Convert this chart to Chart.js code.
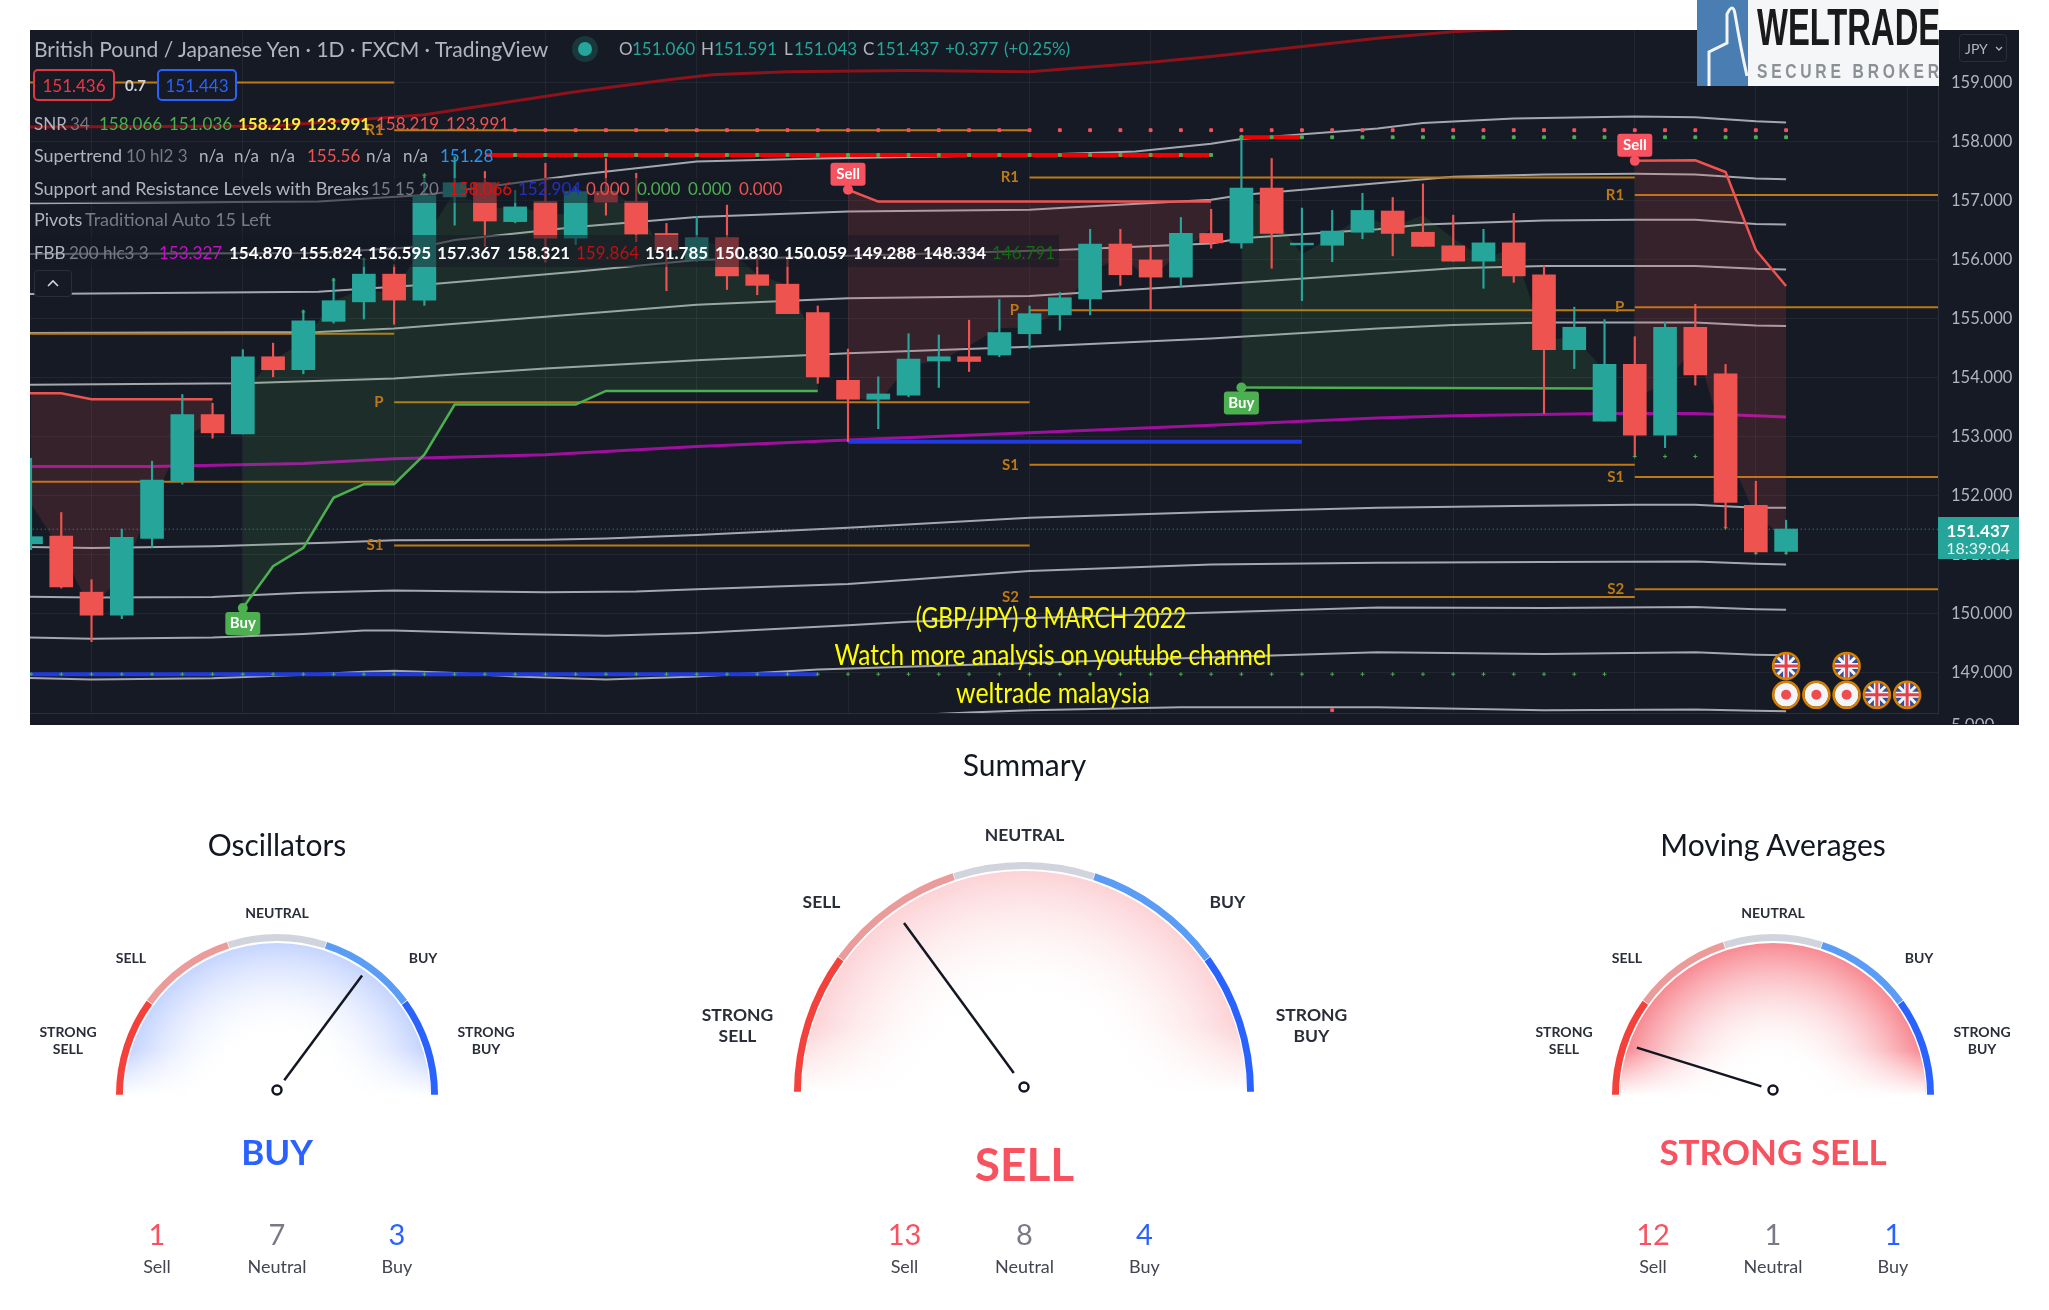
<!DOCTYPE html>
<html>
<head>
<meta charset="utf-8">
<title>GBP/JPY 8 March 2022</title>
<script src="https://cdn.jsdelivr.net/npm/chart.js@4"></script>
<style>
  html, body { margin: 0; background: #fff; }
  #page { position: relative; width: 2049px; height: 1310px; overflow: hidden; font-family: Lato, sans-serif; }
  #chartBox { position: absolute; left: 30px; top: 30px; width: 1989px; height: 695px; background: #161a25; overflow: hidden; }
  #overlay { position: absolute; left: 0; top: 0; width: 2049px; height: 1310px; pointer-events: none; }
  #overlay span { position: absolute; white-space: nowrap; }
  .gauge { position: absolute; }
  .box { position: absolute; box-sizing: border-box; }
</style>
</head>
<body>
<div id="page">
  <div id="chartBox"><canvas id="priceChart" width="1989" height="695"></canvas></div>
  <canvas id="gauge0" class="gauge" width="324" height="162" style="left:115px;top:934px"></canvas>
  <canvas id="gauge1" class="gauge" width="462" height="231" style="left:793px;top:862px"></canvas>
  <canvas id="gauge2" class="gauge" width="324" height="162" style="left:1611px;top:934px"></canvas>
  <div id="overlay"></div>
</div>
<script>
// Candles
const opens = [151.19,151.32,150.37,149.98,151.28,152.25,153.38,153.05,154.36,154.14,154.96,155.29,155.76,155.32,157.07,157.31,156.65,156.99,156.37,157.16,156.99,156.45,156.00,156.38,155.75,155.59,155.11,153.96,153.64,153.71,154.29,154.36,154.39,154.75,155.07,155.34,156.27,156.00,155.71,156.45,156.29,157.22,156.255,156.25,156.47,156.83,156.47,156.24,155.98,156.29,155.75,154.48,153.27,154.23,153.03,154.86,154.07,151.84,151.06]
const highs = [152.64,151.72,150.58,151.44,152.59,153.72,153.57,154.48,154.59,155.15,155.69,156.03,155.92,157.44,157.75,157.50,157.18,157.64,157.24,157.72,157.47,156.62,156.74,156.93,156.10,156.06,155.22,154.49,154.02,154.75,154.73,154.98,155.33,155.22,155.45,156.52,156.52,156.23,156.72,156.86,158.09,157.72,156.88,156.84,157.13,157.06,157.29,156.76,156.52,156.79,155.90,155.20,154.99,154.70,154.94,155.25,154.23,152.25,151.59]
const lows = [151.09,150.44,149.53,149.92,151.13,152.20,152.98,153.05,154.02,154.07,154.93,155.00,154.91,155.23,156.59,156.23,156.63,155.96,156.26,156.76,156.31,155.48,155.97,155.50,155.41,155.09,153.91,152.92,153.14,153.68,153.84,154.11,154.36,154.50,154.81,155.07,155.57,155.15,155.55,156.20,156.20,155.86,155.31,155.97,156.36,156.07,156.23,155.98,155.52,155.62,153.40,154.16,153.27,152.67,152.82,153.88,151.46,151.03,151.04]
const closes = [151.31,150.46,149.98,151.30,152.27,153.38,153.07,154.36,154.14,154.97,155.31,155.76,155.32,157.09,157.31,156.66,156.90,156.37,157.16,156.98,156.44,156.17,156.38,155.73,155.57,155.09,154.02,153.64,153.73,154.32,154.36,154.28,154.77,155.09,155.36,156.27,155.75,155.71,156.45,156.29,157.22,156.45,156.285,156.49,156.84,156.45,156.23,155.98,156.29,155.73,154.48,154.86,154.23,153.03,154.86,154.05,151.89,151.05,151.44]

const yTicks = [149,150,151,152,153,154,155,156,157,158,159]
const gridDays = [2,7,12,17,22,27,33,37,42,47,53,57,62]
const lastPrice = 151.437

// FBB bands as [candle, price]
const fbbUpper6 = [[-1,158.25],[8,158.27],[13,158.46],[18,158.85],[21,159.05],[22.5,159.14],[25,159.19],[29,159.21],[33,159.19],[37,159.35],[39,159.45],[44.5,159.76],[47,159.87],[50,159.95]]
const fbbUpper5 = [[-1,156.96],[9.5,156.99],[13,157.10],[18,157.44],[22,157.67],[26,157.72],[33,157.78],[36.5,157.84],[39,157.97],[40,158.05],[44.5,158.23],[46,158.32],[49,158.40],[53,158.43],[55,158.42],[57,158.35],[58,158.33]]
const fbbUpper4 = [[-1,156.10],[9.5,156.12],[13,156.23],[14,156.34],[18,156.56],[22,156.73],[27,156.82],[33,156.85],[34,156.88],[39,157.02],[40,157.10],[44.5,157.30],[47,157.41],[50,157.45],[53,157.46],[55,157.45],[57,157.38],[58,157.37]]
const fbbUpper3 = [[-1,155.42],[9.5,155.46],[13,155.58],[18,155.80],[22,156.00],[34,156.17],[39,156.28],[40,156.37],[44.5,156.52],[46,156.60],[50,156.67],[53,156.68],[55,156.68],[57,156.61],[58,156.60]]
const fbbUpper2 = [[-1,154.76],[9.5,154.78],[12,154.84],[17,155.04],[22,155.24],[27,155.35],[33,155.39],[39,155.58],[44.5,155.77],[47,155.86],[50,155.90],[55,155.90],[57,155.85],[58,155.84]]
const fbbUpper1 = [[-1,153.88],[7,153.91],[12,153.99],[17,154.16],[22,154.30],[27,154.42],[33,154.53],[39,154.67],[44.5,154.84],[47,154.90],[50,154.94],[55,154.94],[57,154.89],[58,154.88]]
const fbbBasis = [[-1,152.50],[2,152.50],[4,152.50],[9,152.55],[12,152.63],[17,152.70],[22,152.84],[27,152.95],[33,153.07],[39,153.20],[44.5,153.32],[47,153.36],[52,153.40],[55,153.40],[57,153.36],[58,153.34]]
const fbbLower1 = [[-1,151.14],[2,151.12],[6,151.15],[10,151.21],[12,151.25],[17,151.26],[19,151.28],[22,151.34],[27,151.46],[33,151.63],[39,151.73],[44.5,151.80],[49,151.83],[53,151.85],[55,151.85],[57,151.80],[58,151.80]]
const fbbLower2 = [[-1,150.30],[2,150.28],[6,150.29],[9,150.36],[12,150.40],[17,150.37],[20,150.38],[22,150.42],[27,150.51],[29,150.58],[33,150.73],[39,150.84],[44.5,150.87],[50,150.88],[55,150.89],[57,150.85],[58,150.84]]
const fbbLower3 = [[-1,149.61],[2,149.58],[6,149.60],[9,149.66],[11,149.72],[12,149.72],[16,149.66],[19,149.63],[22,149.68],[27,149.81],[29,149.87],[44.5,150.11],[50,150.10],[55,150.12],[57,150.08],[58,150.07]]
const fbbLower4 = [[-1,148.93],[2,148.89],[6,148.91],[9,148.97],[11,149.02],[12,149.04],[14,149.00],[16,148.94],[19,148.89],[22,148.94],[26,149.06],[44.5,149.35],[50,149.32],[55,149.35],[57,149.31],[58,149.30]]
const fbbLower5 = [[28,148.26],[31,148.33],[33,148.37],[38,148.42],[44.5,148.42],[50,148.37],[55,148.38],[57,148.36],[58,148.35]]

// Supertrend legs
const buyLegA = [[7,150.10],[8,150.81],[9,151.12],[10,151.97],[11,152.20],[12,152.20],[13,152.70],[14,153.55],[18,153.55],[19,153.78],[26,153.78]]
const buyLegB = [[40,153.84],[52,153.82]]
const sellLegA = [[-0.1,153.74],[1,153.74],[2,153.64],[6,153.64]]
const sellLegB = [[27,157.19],[28,156.99],[39,156.99]]
const sellLegC = [[53,157.68],[55,157.69],[56,157.49],[57,156.17],[58,155.56]]

// Support and resistance breaks
const resistanceA = [[15,157.78],[39,157.78]]
const resistanceB = [[40,158.08],[42,158.08]]
const supportA = [[-0.1,148.98],[26,148.98]]
const supportB = [[27,152.92],[42,152.92]]

// Pivot periods: one entry per period
const pivotStarts = [-1,12,33,53]
const pivotEnds = [12,33,53,64]
const pivotR1 = [159.01,158.20,157.40,157.10]
const pivotP = [154.75,153.59,155.15,155.20]
const pivotS1 = [152.24,151.16,152.53,152.32]
const pivotS2 = [null,null,150.29,150.42]

// SNR dots and small signal marks
const snrRed = [16,17,18,19,20,21,22,23,24,25,26,27,28,29,30,31,32,33,34,35,36,37,38,39,40,41,42,43,44,45,46,47,48,49,50,51,52,53,54,55,56,57,58]
const snrRedLevel = 158.2
const dotsMidDays = [16,17,18,19,20,21,22,23,24,25,26,27,28,29,30,31,32,33,34,35,36,37,38,39]
const dotsHighDays = [40,41,42,43,44,45,46,47,48,49,50,51,52,53,54,55,56,57,58]
const dotsLowDays = [0,1,2,3,4,5,6,7,8,9,10,11,12,13,14,15,16,17,18,19,20,21,22,23,24,25,26,27,28,29,30,31,32,33,34,35,36,37,38,39,40,41,42,43,44,45,46,47,48,49,50,51,52]
const candleMarks = [[9,155.12],[10,155.66],[11,156.01],[12,156.01],[13,157.44],[40,158.09],[53,152.67],[54,152.67],[55,152.67],[56,151.46],[57,151.03],[58,151.03]]
const redMark = [[43,148.37]]

// Buy and sell tags, event flags, pivot letters
const tagDays = [7,27,40,53]
const tagPrices = [150.10,157.19,153.84,157.68]
const tagTexts = ['Buy','Sell','Buy','Sell']
const flagDays = [58,60,58,59,60,61,62]
const flagPrices = [149.12,149.12,148.63,148.63,148.63,148.63,148.63]
const flagKinds = ['uk','uk','jp','jp','jp','uk','uk']

// Gauges
const gaugeTitles = ['Oscillators','Summary','Moving Averages']
const gaugeZones = ['STRONG SELL','SELL','NEUTRAL','BUY','STRONG BUY']
const gaugeShares = [1,1,1,1,1]
const gaugeNeedles = [0.407,-0.402,-0.808]
const gaugeResults = ['BUY','SELL','STRONG SELL']
const sellCounts = [1,13,12]
const neutralCounts = [7,8,1]
const buyCounts = [3,4,1]

const UP = '#26a69a'
const DOWN = '#ef5350'
const BG = '#161a25'
const GREY_BAND = '#a4a7ae'
const PIVOT = '#bd7913'

const mids = highs.map((h, i) => (h + lows[i]) / 2)

function lineSet(points, color, width, order, extra) {
  return Object.assign({
    type: 'line',
    data: points.map((p) => ({ x: p[0], y: p[1] })),
    borderColor: color,
    borderWidth: width,
    pointRadius: 0,
    tension: 0,
    order: order,
  }, extra || {})
}

function dotSet(points, color, radius, style) {
  return {
    type: 'line',
    data: points.map((p) => ({ x: p[0], y: p[1] })),
    showLine: false,
    pointStyle: style,
    pointRadius: radius,
    pointBackgroundColor: color,
    pointBorderColor: color,
    pointBorderWidth: 1,
    order: 0,
  }
}

const datasets = []

// Hidden line through the candle mids, the supertrend fill closes on it
datasets.push({
  type: 'line',
  data: mids.map((m, i) => ({ x: i, y: m })),
  showLine: false,
  pointRadius: 0,
  borderWidth: 0,
  order: 20,
})
const fillGreen = { fill: { target: 0 }, backgroundColor: 'rgba(76,175,80,0.13)' }
const fillRed = { fill: { target: 0 }, backgroundColor: 'rgba(239,83,80,0.15)' }
datasets.push(lineSet(buyLegA, '#4caf50', 2.5, 3, fillGreen))
datasets.push(lineSet(buyLegB, '#4caf50', 2.5, 3, fillGreen))
datasets.push(lineSet(sellLegA, DOWN, 2.5, 3, fillRed))
datasets.push(lineSet(sellLegB, DOWN, 2.5, 3, fillRed))
datasets.push(lineSet(sellLegC, DOWN, 2.5, 3, fillRed))

;[fbbUpper5, fbbUpper4, fbbUpper3, fbbUpper2, fbbUpper1, fbbLower1, fbbLower2, fbbLower3, fbbLower4, fbbLower5].forEach((band) => {
  datasets.push(lineSet(band, GREY_BAND, 2, 6))
})
datasets.push(lineSet(fbbUpper6, '#8e1219', 3, 5))
datasets.push(lineSet(fbbBasis, '#a0109f', 3, 5))

pivotStarts.forEach((start, i) => {
  ;[pivotR1, pivotP, pivotS1, pivotS2].forEach((level) => {
    if (level[i] === null) return
    datasets.push(lineSet([[start, level[i]], [pivotEnds[i], level[i]]], PIVOT, 2, 4))
  })
})

datasets.push(lineSet(resistanceA, '#f00000', 4, 4))
datasets.push(lineSet(resistanceB, '#f00000', 4, 4))
datasets.push(lineSet(supportA, '#1f3ae0', 4, 4))
datasets.push(lineSet(supportB, '#1f3ae0', 4, 4))

datasets.push(lineSet([[-1, lastPrice], [64, lastPrice]], UP, 1, 2, { borderDash: [1, 3] }))

datasets.push({
  type: 'bar',
  data: opens.map((o, i) => ({ x: i, y: [o, closes[i]] })),
  backgroundColor: opens.map((o, i) => (closes[i] >= o ? UP : DOWN)),
  barThickness: 23,
  grouped: false,
  order: 1,
})
datasets.push({
  type: 'bar',
  data: opens.map((o, i) => ({ x: i, y: [lows[i], highs[i]] })),
  backgroundColor: opens.map((o, i) => (closes[i] >= o ? UP : DOWN)),
  barThickness: 1.5,
  grouped: false,
  order: 2,
})

datasets.push(dotSet(snrRed.map((d) => [d, snrRedLevel]), '#f7525f', 2, 'rect'))
datasets.push(dotSet(dotsMidDays.map((d) => [d, 157.78]), '#4caf50', 2, 'rect'))
datasets.push(dotSet(dotsHighDays.map((d) => [d, 158.08]), '#4caf50', 2, 'rect'))
datasets.push(dotSet(dotsLowDays.map((d) => [d, 148.98]), '#4caf50', 2, 'cross'))
datasets.push(dotSet(candleMarks, '#4caf50', 2, 'cross'))
datasets.push(dotSet(redMark, '#f7525f', 2, 'rect'))

function drawTag(ctx, px, py, text, color, below) {
  const w = 35
  const h = 23
  const top = below ? py + 4 : py - 4 - h
  ctx.fillStyle = color
  ctx.beginPath()
  ctx.arc(px, py, 5, 0, Math.PI * 2)
  ctx.fill()
  ctx.beginPath()
  ctx.roundRect(px - w / 2, top, w, h, 3)
  ctx.fill()
  ctx.fillStyle = '#fff'
  ctx.font = '700 15px Lato'
  ctx.textAlign = 'center'
  ctx.textBaseline = 'middle'
  ctx.fillText(text, px, top + h / 2)
}

function drawFlag(ctx, px, py, kind) {
  const r = 12
  ctx.save()
  ctx.beginPath()
  ctx.arc(px, py, r, 0, Math.PI * 2)
  ctx.clip()
  if (kind === 'jp') {
    ctx.fillStyle = '#f4f5f8'
    ctx.fillRect(px - r, py - r, r * 2, r * 2)
    ctx.fillStyle = '#ef4c50'
    ctx.beginPath()
    ctx.arc(px, py, 5, 0, Math.PI * 2)
    ctx.fill()
  } else {
    ctx.fillStyle = '#2f4f9e'
    ctx.fillRect(px - r, py - r, r * 2, r * 2)
    ctx.strokeStyle = '#f4f5f8'
    ctx.lineWidth = 3
    ctx.beginPath()
    ctx.moveTo(px - r, py - r)
    ctx.lineTo(px + r, py + r)
    ctx.moveTo(px + r, py - r)
    ctx.lineTo(px - r, py + r)
    ctx.stroke()
    ctx.lineWidth = 6
    ctx.beginPath()
    ctx.moveTo(px, py - r)
    ctx.lineTo(px, py + r)
    ctx.moveTo(px - r, py)
    ctx.lineTo(px + r, py)
    ctx.stroke()
    ctx.strokeStyle = '#e8404a'
    ctx.lineWidth = 3
    ctx.stroke()
  }
  ctx.restore()
  ctx.strokeStyle = '#d87f00'
  ctx.lineWidth = 2.5
  ctx.beginPath()
  ctx.arc(px, py, r + 1, 0, Math.PI * 2)
  ctx.stroke()
}

const chartNotes = {
  id: 'chartNotes',
  afterDatasetsDraw(chart) {
    const { ctx, scales } = chart
    ctx.save()
    ctx.font = '700 15px Lato'
    ctx.textAlign = 'right'
    ctx.textBaseline = 'middle'
    ctx.fillStyle = PIVOT
    pivotStarts.forEach((start, i) => {
      if (i === 0) return
      const names = [['R1', pivotR1], ['P', pivotP], ['S1', pivotS1], ['S2', pivotS2]]
      names.forEach(([name, level]) => {
        if (level[i] === null) return
        ctx.fillText(name, scales.x.getPixelForValue(start - 0.35), scales.y.getPixelForValue(level[i]))
      })
    })
    tagDays.forEach((day, i) => {
      const isBuy = tagTexts[i] === 'Buy'
      drawTag(ctx, scales.x.getPixelForValue(day), scales.y.getPixelForValue(tagPrices[i]), tagTexts[i], isBuy ? '#4caf50' : '#f7525f', isBuy)
    })
    flagDays.forEach((day, i) => {
      drawFlag(ctx, scales.x.getPixelForValue(day), scales.y.getPixelForValue(flagPrices[i]), flagKinds[i])
    })
    ctx.restore()
  },
}

new Chart(document.getElementById('priceChart'), {
  type: 'line',
  data: { datasets: datasets },
  plugins: [chartNotes],
  options: {
    responsive: false,
    animation: false,
    events: [],
    layout: { autoPadding: false, padding: { left: 0, right: 0, top: 0, bottom: 12 } },
    plugins: { legend: { display: false }, tooltip: { enabled: false } },
    scales: {
      x: {
        type: 'linear',
        min: -0.033,
        max: 63.02,
        offset: false,
        afterBuildTicks: (scale) => { scale.ticks = gridDays.map((d) => ({ value: d })) },
        afterFit: (scale) => {
          scale.height = 0
          scale.paddingLeft = 0
          scale.paddingRight = 0
        },
        grid: { color: 'rgba(240,243,250,0.06)', offset: false, drawTicks: false },
        border: { display: true, color: '#2a2e39' },
        ticks: { display: false },
      },
      y: {
        position: 'right',
        min: 148.322,
        max: 159.898,
        afterBuildTicks: (scale) => { scale.ticks = yTicks.map((v) => ({ value: v })) },
        afterFit: (scale) => {
          scale.width = 81
          scale.paddingTop = 0
          scale.paddingBottom = 0
        },
        grid: { color: 'rgba(240,243,250,0.06)', drawTicks: false },
        border: { display: true, color: '#2a2e39' },
        ticks: {
          padding: 13,
          color: '#b2b5be',
          font: { family: 'Lato', size: 16.5 },
          callback: (v) => v.toFixed(3),
        },
      },
    },
  },
})

// Gauges
const gaugeTints = ['rgba(41,98,255,0.27)', 'rgba(242,54,69,0.22)', 'rgba(242,54,69,0.58)']
const gaugeFades = [0.35, 0.4, 0.2]
const zoneColors = ['#f5413b', '#ec9b9b', '#d1d4dc', '#5b9cf6', '#2962ff']

const needlePlugin = {
  id: 'needle',
  afterDatasetsDraw(chart) {
    const which = chart.options.plugins.needle.index
    const arc = chart.getDatasetMeta(2).data[0]
    const ctx = chart.ctx
    const cx = arc.x
    const base = arc.y
    const inner = arc.outerRadius

    // The tint fades out towards the flat side
    ctx.save()
    ctx.beginPath()
    ctx.arc(cx, base, inner, Math.PI, 0)
    ctx.clip()
    const fade = ctx.createLinearGradient(0, base, 0, base - inner * 0.3)
    fade.addColorStop(0, 'rgba(255,255,255,1)')
    fade.addColorStop(1, 'rgba(255,255,255,0)')
    ctx.fillStyle = fade
    ctx.fillRect(cx - inner, base - inner * 0.3, inner * 2, inner * 0.3)
    ctx.restore()

    const pivotY = base - 6
    const angle = Math.PI / 2 * (gaugeNeedles[which] - 1)
    const R = chart.width / 2
    ctx.strokeStyle = '#131722'
    ctx.lineWidth = 2.5
    ctx.beginPath()
    ctx.moveTo(cx + Math.cos(angle) * R * 0.075, pivotY + Math.sin(angle) * R * 0.075)
    ctx.lineTo(cx + Math.cos(angle) * R * 0.88, pivotY + Math.sin(angle) * R * 0.88)
    ctx.stroke()
    ctx.lineWidth = 2.5
    ctx.beginPath()
    ctx.arc(cx, pivotY, 4.5, 0, Math.PI * 2)
    ctx.stroke()
  },
}

gaugeResults.forEach((result, index) => {
  const canvas = document.getElementById('gauge' + index)
  const R = canvas.width / 2
  new Chart(canvas, {
    type: 'doughnut',
    data: {
      labels: gaugeZones,
      datasets: [
        { data: gaugeShares, weight: 7, borderWidth: 0, spacing: 2, backgroundColor: zoneColors },
        { data: [1], weight: 2, borderWidth: 0, backgroundColor: 'rgba(0,0,0,0)' },
        {
          data: [1],
          weight: R - 9,
          borderWidth: 0,
          backgroundColor: (c) => {
            const g = c.chart.ctx.createRadialGradient(R, R, 0, R, R, R - 9)
            g.addColorStop(0, 'rgba(255,255,255,0)')
            g.addColorStop(gaugeFades[index], 'rgba(255,255,255,0)')
            g.addColorStop(1, gaugeTints[index])
            return g
          },
        },
      ],
    },
    plugins: [needlePlugin],
    options: {
      responsive: false,
      animation: false,
      events: [],
      rotation: -90,
      circumference: 180,
      cutout: 0,
      layout: { autoPadding: false },
      plugins: { legend: { display: false }, tooltip: { enabled: false }, needle: { index: index } },
    },
  })
})

// All the text around the charts
const overlay = document.getElementById('overlay')

function put(text, x, y, color, size, opts) {
  const o = opts || {}
  const el = document.createElement('span')
  el.textContent = text
  el.style.left = x + 'px'
  el.style.top = y + 'px'
  el.style.color = color
  el.style.fontSize = size + 'px'
  el.style.fontWeight = o.weight || 400
  el.style.transform = (o.center ? 'translate(-50%,-50%)' : 'translateY(-50%)') + (o.scaleX ? ' scaleX(' + o.scaleX + ')' : '')
  if (!o.center && o.scaleX) el.style.transformOrigin = 'left center'
  overlay.appendChild(el)
  return el
}

function box(x, y, w, h, css) {
  const el = document.createElement('div')
  el.className = 'box'
  el.style.left = x + 'px'
  el.style.top = y + 'px'
  el.style.width = w + 'px'
  el.style.height = h + 'px'
  el.style.cssText += css
  overlay.appendChild(el)
  return el
}

// Dimmed strips behind two legend rows
box(30, 178, 760, 25, 'background:rgba(22,26,37,0.55)')
box(30, 235, 1029, 32, 'background:rgba(22,26,37,0.55)')

const LEG = '#b2b5be'
const GREY = '#787b86'
const legendRows = [
  [48, 17, [['O', 619, LEG], ['151.060', 632, UP], ['H', 701, LEG], ['151.591', 714, UP], ['L', 784, LEG], ['151.043', 794, UP], ['C', 863, LEG], ['151.437', 876, UP], ['+0.377', 945, UP], ['(+0.25%)', 1004, UP]]],
  [123, 17, [['SNR', 34, LEG], ['34', 70, GREY], ['158.066', 99, '#4caf50'], ['151.036', 169, '#4caf50'], ['158.219', 238, '#ffeb3b', 700], ['123.991', 307, '#ffeb3b', 700], ['158.219', 376, DOWN], ['123.991', 446, DOWN]]],
  [155, 17, [['10 hl2 3', 126, GREY], ['n/a', 199, LEG], ['n/a', 234, LEG], ['n/a', 270, LEG], ['155.56', 307, DOWN], ['n/a', 366, LEG], ['n/a', 403, LEG], ['151.28', 440, '#2196f3']]],
  [188, 17, [['15 15 20', 371, GREY], ['158.066', 449, '#e01010'], ['152.904', 518, '#2030c8'], ['0.000', 586, DOWN], ['0.000', 637, '#4caf50'], ['0.000', 688, '#4caf50'], ['0.000', 739, DOWN]]],
  [219, 18, [['Pivots', 34, LEG], ['Traditional Auto 15 Left', 85, GREY]]],
  [252, 17, [['FBB', 34, LEG], ['200 hlc3 3', 69, GREY], ['153.327', 159, '#c810c8'], ['154.870', 229, '#fff', 700], ['155.824', 299, '#fff', 700], ['156.595', 368, '#fff', 700], ['157.367', 437, '#fff', 700], ['158.321', 507, '#fff', 700], ['159.864', 576, '#c01010'], ['151.785', 645, '#fff', 700], ['150.830', 715, '#fff', 700], ['150.059', 784, '#fff', 700], ['149.288', 853, '#fff', 700], ['148.334', 923, '#fff', 700], ['146.791', 992, '#126b12']]],
]
legendRows.forEach(([y, size, parts]) => {
  parts.forEach(([text, x, color, weight]) => put(text, x, y, color, size, { weight: weight }))
})
put('British Pound / Japanese Yen · 1D · FXCM · TradingView', 34, 48, LEG, 21)
put('Supertrend', 34, 155, LEG, 18)
put('Support and Resistance Levels with Breaks', 34, 188, LEG, 18)

// Live dot
box(578, 42, 14, 14, 'border-radius:50%;background:#26a69a;box-shadow:0 0 0 6px rgba(38,166,154,0.22)')

// Bid and ask boxes
box(33, 69, 82, 32, 'background:' + BG + ';border:2px solid #e03a40;border-radius:5px')
box(157, 69, 80, 32, 'background:' + BG + ';border:2px solid #2962ff;border-radius:5px')
put('151.436', 74, 85, '#f23645', 17, { center: true })
put('0.7', 125, 85, '#d1d4dc', 15, { weight: 700 })
put('151.443', 197, 85, '#2962ff', 17, { center: true })

// Collapse button
box(34, 270, 38, 27, 'border:1px solid #2a2e39;border-radius:4px;background:' + BG)
const caret = document.createElementNS('http://www.w3.org/2000/svg', 'svg')
caret.setAttribute('width', '14')
caret.setAttribute('height', '10')
caret.style.cssText = 'position:absolute;left:46px;top:278px'
caret.innerHTML = '<path d="M2 8 L7 3 L12 8" fill="none" stroke="#d1d4dc" stroke-width="1.6"/>'
overlay.appendChild(caret)

// Yellow note
put('(GBP/JPY) 8 MARCH 2022', 1051, 615.5, '#ffff00', 29, { center: true, scaleX: 0.79 })
put('Watch more analysis on youtube channel', 1053, 652.5, '#ffff00', 29, { center: true, scaleX: 0.84 })
put('weltrade malaysia', 1053, 690.5, '#ffff00', 29, { center: true, scaleX: 0.855 })

// Price scale extras
box(1938, 517, 81, 42, 'background:#26a69a')
put('151.437', 1978, 530, '#fff', 17, { center: true, weight: 700 })
put('18:39:04', 1978, 547, '#e6f4f2', 16, { center: true })
box(1959, 34, 48, 28, 'border:1px solid #2a2e39;border-radius:4px')
put('JPY', 1965, 48, '#b2b5be', 14)
const jpyCaret = document.createElementNS('http://www.w3.org/2000/svg', 'svg')
jpyCaret.setAttribute('width', '8')
jpyCaret.setAttribute('height', '6')
jpyCaret.style.cssText = 'position:absolute;left:1995px;top:46px'
jpyCaret.innerHTML = '<path d="M1 1 L4 4 L7 1" fill="none" stroke="#b2b5be" stroke-width="1.3"/>'
overlay.appendChild(jpyCaret)
const cutTick = put('5.000', 1951, 724, '#b2b5be', 17)
cutTick.style.clipPath = 'inset(0 0 50% 0)'

// Logo
box(1697, 0, 242, 86, 'background:#f5f6f7')
box(1697, 0, 51, 86, 'background:#4a7db1')
const hand = document.createElementNS('http://www.w3.org/2000/svg', 'svg')
hand.setAttribute('width', '51')
hand.setAttribute('height', '86')
hand.style.cssText = 'position:absolute;left:1697px;top:0'
hand.innerHTML = '<path d="M12 86 L12 52 L30 43 L30 14 Q36 2 38 14 Q44 50 50 76" fill="none" stroke="#f2f4f6" stroke-width="3"/>'
overlay.appendChild(hand)
put('WELTRADE', 1757, 27, '#1a1a1a', 52, { weight: 700, scaleX: 0.63 }).style.fontFamily = 'Liberation Sans'
const tagline = put('SECURE BROKER', 1757, 71, '#8c9096', 21, { weight: 700, scaleX: 0.745 })
tagline.style.fontFamily = 'Liberation Sans'
tagline.style.letterSpacing = '5px'

// Gauge text
const gaugeLayouts = [
  { cx: 277, titleY: 844, top: 912, mid: 957, low: 1031, dx1: 146, dx2: 209, zone: 14, title: 30, resultY: 1151, result: 35, offs: 120 },
  { cx: 1024.5, titleY: 764, top: 834, mid: 901, low: 1014, dx1: 203, dx2: 287, zone: 17.5, title: 30, resultY: 1163, result: 46, offs: 120 },
  { cx: 1773, titleY: 844, top: 912, mid: 957, low: 1031, dx1: 146, dx2: 209, zone: 14, title: 30, resultY: 1151, result: 35, offs: 120 },
]
const ZONE = '#2a2e39'
const RED_TXT = '#f7525f'
const BLUE_TXT = '#2962ff'
gaugeLayouts.forEach((g, i) => {
  put(gaugeTitles[i], g.cx, g.titleY, '#131722', g.title, { center: true })
  const lineGap = i === 1 ? 21 : 17
  put(gaugeZones[2], g.cx, g.top, ZONE, g.zone, { center: true, weight: 700 })
  put(gaugeZones[1], g.cx - g.dx1, g.mid, ZONE, g.zone, { center: true, weight: 700 })
  put(gaugeZones[3], g.cx + g.dx1, g.mid, ZONE, g.zone, { center: true, weight: 700 })
  put('STRONG', g.cx - g.dx2, g.low, ZONE, g.zone, { center: true, weight: 700 })
  put('SELL', g.cx - g.dx2, g.low + lineGap, ZONE, g.zone, { center: true, weight: 700 })
  put('STRONG', g.cx + g.dx2, g.low, ZONE, g.zone, { center: true, weight: 700 })
  put('BUY', g.cx + g.dx2, g.low + lineGap, ZONE, g.zone, { center: true, weight: 700 })

  const resultColor = gaugeResults[i] === 'BUY' ? BLUE_TXT : RED_TXT
  put(gaugeResults[i], g.cx, g.resultY, resultColor, g.result, { center: true, weight: 700 })

  put(String(sellCounts[i]), g.cx - g.offs, 1233, RED_TXT, 29, { center: true })
  put(String(neutralCounts[i]), g.cx, 1233, GREY, 29, { center: true })
  put(String(buyCounts[i]), g.cx + g.offs, 1233, BLUE_TXT, 29, { center: true })
  put('Sell', g.cx - g.offs, 1266, '#434651', 18, { center: true })
  put('Neutral', g.cx, 1266, '#434651', 18, { center: true })
  put('Buy', g.cx + g.offs, 1266, '#434651', 18, { center: true })
})
</script>
</body>
</html>
